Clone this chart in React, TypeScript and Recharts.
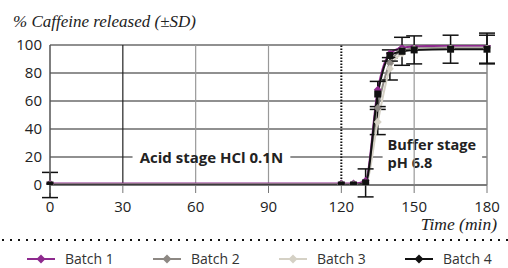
import {
  LineChart,
  Line,
  XAxis,
  YAxis,
  CartesianGrid,
  ReferenceLine,
  ReferenceArea,
  ErrorBar,
} from 'recharts';

const times = [0, 120, 125, 130, 135, 140, 145, 150, 165, 180];
const batch1 = [1, 1, 1, 3, 68, 94, 98, 99, 99.5, 99.5];
const batch2 = [0.5, 0.5, 0.5, 1.5, 55, 87, 96, 97.5, 98, 98];
const batch3 = [0, 0, 0, 1, 45, 83, 94, 97, 97.5, 97.5];
const batch4 = [0, 0, 0, 1.5, 65, 92.5, 95.5, 96.5, 97, 97];
const batch3Sd = [0, 0, 0, 0, 9, 8, 0, 0, 0, 11];
const batch4Sd = [9, 0, 0, 10, 9, 4, 10, 10, 10, 10];

const xTicks = [0, 30, 60, 90, 120, 150, 180];
const yTicks = [0, 20, 40, 60, 80, 100];

const series = [
  { key: 'b1', name: 'Batch 1', color: '#8e2a8e' },
  { key: 'b2', name: 'Batch 2', color: '#8d8883' },
  { key: 'b3', name: 'Batch 3', color: '#d5d1c5' },
  { key: 'b4', name: 'Batch 4', color: '#111111' },
];

const data = times.map((t, i) => ({
  t,
  b1: batch1[i],
  b2: batch2[i],
  b3: batch3[i],
  b4: batch4[i],
  sd3: batch3Sd[i],
  sd4: batch4Sd[i],
}));

const SANS = '"Open Sans", sans-serif';
const SERIF = '"Liberation Serif", serif';

const diamond = (color: string) => (props: any) => {
  const { cx, cy, index } = props;
  if (cx == null || cy == null) return <g key={`n-${index}`} />;
  return (
    <path
      key={`d-${index}`}
      d={`M${cx},${cy - 4}L${cx + 4},${cy}L${cx},${cy + 4}L${cx - 4},${cy}Z`}
      fill={color}
    />
  );
};

const square = (props: any) => {
  const { cx, cy, index } = props;
  if (cx == null || cy == null) return <g key={`n-${index}`} />;
  return <rect key={`s-${index}`} x={cx - 3.5} y={cy - 3.5} width={7} height={7} fill="#111" />;
};

const BufferLabel = (props: any) => {
  const vb = props.viewBox || {};
  return (
    <text fontFamily={SANS} fontSize={14.5} fontWeight={700} fill="#222">
      <tspan x={vb.x + 5} y={vb.y + 13}>Buffer stage</tspan>
      <tspan x={vb.x + 5} y={vb.y + 31}>pH 6.8</tspan>
    </text>
  );
};

export default function App() {
  return (
    <div style={{ position: 'relative', width: 508, height: 268, background: '#fff' }}>
      <style>{`body{margin:0}`}</style>
      <LineChart width={508} height={240} data={data} margin={{ top: 45, right: 21, left: 0, bottom: 0 }}>
        <CartesianGrid vertical={false} stroke="#222" strokeWidth={1.2} />
        <XAxis
          dataKey="t"
          type="number"
          domain={[0, 180]}
          ticks={xTicks}
          height={55}
          tickSize={8}
          tickMargin={8}
          tickLine={{ stroke: '#777' }}
          axisLine={{ stroke: '#666' }}
          tick={{ fontSize: 15, fill: '#222', fontFamily: SANS }}
        />
        <YAxis
          type="number"
          domain={[0, 100]}
          allowDataOverflow
          ticks={yTicks}
          width={50}
          tickLine={false}
          tickSize={0}
          tickMargin={8}
          axisLine={{ stroke: '#555', strokeWidth: 1.5 }}
          tick={{ fontSize: 15, fill: '#222', fontFamily: SANS }}
        />
        <ReferenceLine x={30} stroke="#222" strokeWidth={1.2} />
        <ReferenceLine x={60} stroke="#999" strokeWidth={1.2} />
        <ReferenceLine x={90} stroke="#999" strokeWidth={1.2} />
        <ReferenceLine x={150} stroke="#999" strokeWidth={1.2} />
        <ReferenceLine x={180} stroke="#888" strokeWidth={1.5} />
        <ReferenceArea
          x1={34}
          x2={99}
          y1={11}
          y2={28.5}
          fill="#fff"
          fillOpacity={1}
          stroke="none"
          label={{
            value: 'Acid stage HCl 0.1N',
            position: 'center',
            fill: '#222',
            fontSize: 15,
            fontWeight: 700,
            fontFamily: SANS,
          }}
        />
        <ReferenceArea
          x1={137}
          x2={178}
          y1={6}
          y2={34}
          fill="#fff"
          fillOpacity={1}
          stroke="none"
          label={<BufferLabel />}
        />
        <ReferenceLine x={120} stroke="#111" strokeWidth={2} strokeDasharray="1.5 1.5" />
        <Line
          type="monotone"
          dataKey="b1"
          stroke={series[0].color}
          strokeWidth={2}
          dot={diamond(series[0].color)}
          isAnimationActive={false}
        />
        <Line
          type="monotone"
          dataKey="b2"
          stroke={series[1].color}
          strokeWidth={2}
          dot={diamond(series[1].color)}
          isAnimationActive={false}
        />
        <Line
          type="monotone"
          dataKey="b3"
          stroke={series[2].color}
          strokeWidth={2}
          dot={diamond(series[2].color)}
          isAnimationActive={false}
        >
          <ErrorBar dataKey="sd3" direction="y" width={8} stroke="#111" strokeWidth={1.5} />
        </Line>
        <Line
          type="monotone"
          dataKey="b4"
          stroke={series[3].color}
          strokeWidth={2}
          dot={square}
          isAnimationActive={false}
        >
          <ErrorBar dataKey="sd4" direction="y" width={8} stroke="#111" strokeWidth={1.5} />
        </Line>
      </LineChart>

      <svg width={508} height={268} style={{ position: 'absolute', left: 0, top: 0, pointerEvents: 'none' }}>
        <text x={13} y={27} fontFamily={SERIF} fontStyle="italic" fontSize={17} fill="#222">
          % Caffeine released (±SD)
        </text>
        <text x={497} y={230} textAnchor="end" fontFamily={SERIF} fontStyle="italic" fontSize={17.5} fill="#222">
          Time (min)
        </text>
        <line x1={2} x2={508} y1={240} y2={240} stroke="#111" strokeWidth={2} strokeDasharray="2 6" />
      </svg>

      <div
        style={{
          position: 'absolute',
          left: 27,
          top: 250,
          display: 'flex',
          fontFamily: SANS,
          fontSize: 14,
          color: '#333',
          lineHeight: '18px',
        }}
      >
        {series.map((s) => (
          <div key={s.key} style={{ width: 126, display: 'flex', alignItems: 'center' }}>
            <svg width={28} height={18} style={{ marginRight: 10 }}>
              <line x1={0} x2={28} y1={9} y2={9} stroke={s.color} strokeWidth={2} />
              <path d="M14,4.5L18.5,9L14,13.5L9.5,9Z" fill={s.color} />
            </svg>
            <span>{s.name}</span>
          </div>
        ))}
      </div>
    </div>
  );
}
